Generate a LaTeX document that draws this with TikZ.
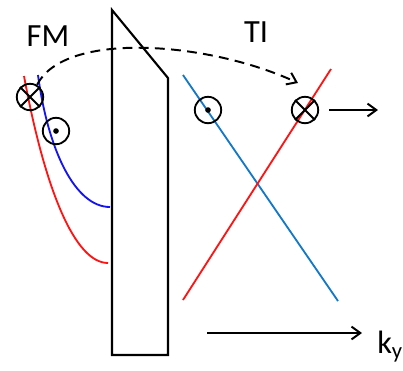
\documentclass[tikz,border=0pt]{standalone}
\usepackage{fontspec}
\setmainfont{Carlito}
\usetikzlibrary{arrows.meta,positioning}
\definecolor{fmred}{RGB}{255,20,20}
\definecolor{fmblue}{RGB}{20,20,240}
\definecolor{tiblue}{RGB}{20,120,200}
\tikzset{
  slab/.style  ={draw=black, line width=1.5pt, line join=miter},
  band/.style  ={line width=1.3pt},
  into/.style  ={circle, draw=black, line width=1.3pt, minimum size=0.66cm, inner sep=0pt},
  outof/.style ={circle, draw=black, line width=1.3pt, minimum size=0.66cm, inner sep=0pt},
  flow/.style  ={-{Straight Barb[length=2.2mm,width=3.2mm]}, line width=1.4pt},
  hop/.style   ={-{Straight Barb[length=2.2mm,width=3.2mm]}, line width=1.4pt, dash pattern=on 7pt off 4.5pt},
  lbl/.style   ={font=\fontsize{23}{26}\selectfont, inner sep=0pt}
}
\begin{document}
\begin{tikzpicture}[x=0.025cm, y=-0.025cm]
\useasboundingbox (0,0) rectangle (403,370);

% slab
\coordinate (sA) at (112,10);
\coordinate (sB) at (168,78);
\coordinate (sC) at (168,355);
\coordinate (sD) at (112,355);
\draw[slab] (sA) -- (sB) -- (sC) -- (sD) -- cycle;

% labels
\node[lbl] (fm) at (48,36) {FM};
\node[lbl] (ti) at (256,32) {TI};

% FM bands, left of the slab
\coordinate (rL) at (24,76);
\coordinate (rR) at (108,263);
\coordinate (bL) at (38,75);
\coordinate (bR) at (110,207);
\draw[band, fmred] (rL) .. controls (45,190) and (75,263) .. (rR);
\draw[band, fmblue] (bL) .. controls (48,150) and (75,207) .. (bR);

% TI bands, right of the slab
\coordinate (tb1) at (183,75);
\coordinate (tb2) at (338,301);
\coordinate (tr1) at (183,300);
\coordinate (tr2) at (331,69);
\draw[band, tiblue] (tb1) -- (tb2);
\draw[band, fmred] (tr1) -- (tr2);

% spin symbols
\node[into] (inL) at (30,97) {};
\node[outof] (outL) at (56,131) {};
\node[outof] (outR) at (208,110) {};
\node[into] (inR) at (305,110) {};
\foreach \s in {inL,inR}{
  \draw[line width=1.3pt] (\s.45) -- (\s.225);
  \draw[line width=1.3pt] (\s.135) -- (\s.315);
}
\foreach \s in {outL,outR}
  \fill (\s.center) circle (2pt);

% transfer and drift arrows
\coordinate (hopEnd) at (298,83);
\coordinate (vEnd) at (378,110);
\coordinate (kStart) at (207,333);
\coordinate (kEnd) at (362,333);
\draw[hop] (inL.60) .. controls (65,30) and (210,42) .. (hopEnd);
\draw[flow] ([xshift=0.25cm]inR.east) -- (vEnd);
\draw[flow] (kStart) -- (kEnd);
\node[lbl, anchor=base west] (ky) at (377,353) {k\textsubscript{y}};
\end{tikzpicture}
\end{document}
